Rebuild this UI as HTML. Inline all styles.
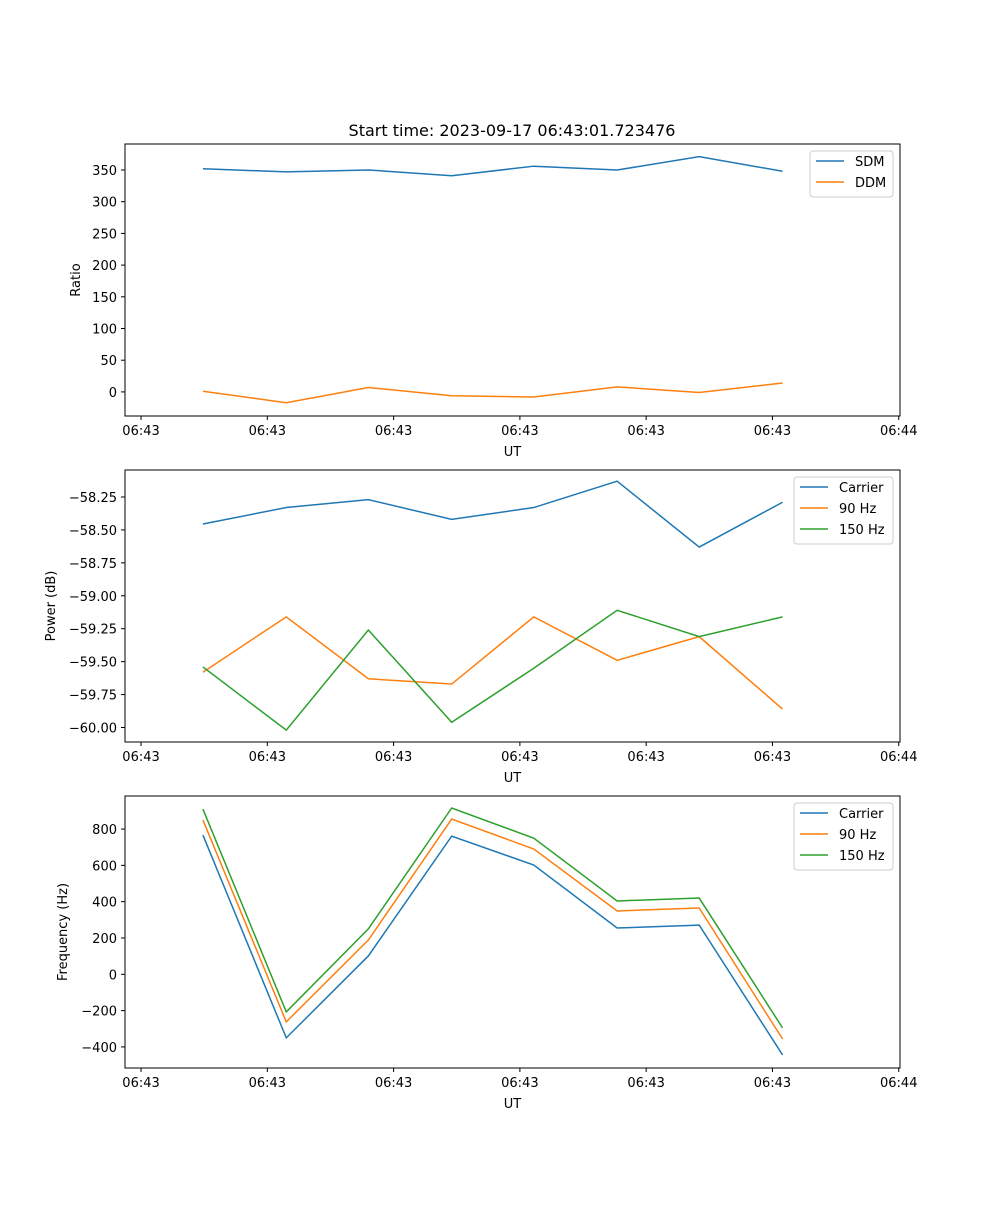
<!DOCTYPE html>
<html><head><meta charset="utf-8"><style>
body{margin:0;background:#fff;}
svg text{font-family:"DejaVu Sans","Liberation Sans",sans-serif;font-size:13px;fill:#000;}
</style></head><body>
<svg id="fig" width="1000" height="1200" xmlns="http://www.w3.org/2000/svg">
<rect width="1000" height="1200" fill="#fff"/>
<text x="512" y="136" text-anchor="middle" style="font-size:16px">Start time: 2023-09-17 06:43:01.723476</text>
</svg>
<script>
// seconds after 06:43:00
const times = [4.9, 11.5, 18.0, 24.6, 31.1, 37.7, 44.2, 50.8];
const xTicks = [0, 10, 20, 30, 40, 50, 60];
const xTickLabels = ["06:43","06:43","06:43","06:43","06:43","06:43","06:44"];

const sdm = [352, 347, 350, 341, 356, 350, 371, 348];
const ddm = [1, -17, 7, -6, -8, 8, -1, 14];
const ratioTicks = [0, 50, 100, 150, 200, 250, 300, 350];

const powerCarrier = [-58.455, -58.33, -58.27, -58.42, -58.33, -58.13, -58.63, -58.29];
const power90 = [-59.58, -59.16, -59.63, -59.67, -59.16, -59.49, -59.31, -59.86];
const power150 = [-59.54, -60.02, -59.26, -59.96, -59.55, -59.11, -59.31, -59.16];
const powerTicks = [-60.00, -59.75, -59.50, -59.25, -59.00, -58.75, -58.50, -58.25];
const powerTickLabels = ["\u221260.00","\u221259.75","\u221259.50","\u221259.25","\u221259.00","\u221258.75","\u221258.50","\u221258.25"];

const freqCarrier = [767, -350, 101, 761, 602, 255, 271, -444];
const freq90 = [850, -262, 189, 855, 690, 349, 365, -356];
const freq150 = [910, -207, 250, 916, 750, 404, 420, -295];
const freqTicks = [-400, -200, 0, 200, 400, 600, 800];

const NS = "http://www.w3.org/2000/svg";
const svg = document.getElementById('fig');
function mk(tag, attrs, parent){const e=document.createElementNS(NS,tag);for(const k in attrs)e.setAttribute(k,attrs[k]);(parent||svg).appendChild(e);return e;}
const L=125,R=900, XMIN=-1.27, XMAX=60.1;
const xs = t => L + (t-XMIN)/(XMAX-XMIN)*(R-L);

function panel(name, top, bot, ymin, ymax, yticks, ylabels, ytitle, series, legend){
  const g = mk('g',{});
  
  
  const ys = v => bot - (v-ymin)/(ymax-ymin)*(bot-top);
  series.forEach(s=>{
    const p = mk('polyline',{points:times.map((t,i)=>xs(t)+','+ys(s.vals[i])).join(' '),fill:'none',stroke:s.color,'stroke-width':1.5},g);
    
    
  });
  const fr = mk('rect',{x:L,y:top,width:R-L,height:bot-top,fill:'none',stroke:'#000','stroke-width':1},g);
  
  
  xTicks.forEach((t,i)=>{
    const x=xs(t);
    mk('line',{x1:x,x2:x,y1:bot,y2:bot+4,stroke:'#000'},g);
    const tx = mk('text',{x:x,y:bot+19,'text-anchor':'middle'},g);
    tx.textContent = xTickLabels[i];
    
    
  });
  const xt = mk('text',{x:(L+R)/2,y:bot+40,'text-anchor':'middle'},g);
  xt.textContent='UT';
  
  
  yticks.forEach((v,i)=>{
    const y=ys(v);
    mk('line',{x1:L-4,x2:L,y1:y,y2:y,stroke:'#000'},g);
    const tx = mk('text',{x:L-8,y:y+5,'text-anchor':'end'},g);
    tx.textContent = ylabels[i];
    
    
  });
  const yt = mk('text',{x:0,y:0,'text-anchor':'middle',transform:`translate(${legend.yx},${(top+bot)/2}) rotate(-90)`},g);
  yt.textContent=ytitle;
  
  
  const lg = mk('g',{},g);
  
  
  const lh = 4 + series.length*21;
  mk('rect',{x:legend.x,y:top+7,width:R-7-legend.x,height:lh,rx:3,fill:'#fff',stroke:'#ccc'},lg);
  series.forEach((s,i)=>{
    const y = top+17+i*21;
    mk('line',{x1:legend.x+6,x2:legend.x+34,y1:y,y2:y,stroke:s.color,'stroke-width':1.5},lg);
    const tx = mk('text',{x:legend.x+45,y:y+5},lg);
    tx.textContent=s.label;
    
    
  });
}
const C1='#1f77b4',C2='#ff7f0e',C3='#2ca02c';
panel('ratio-panel',144,416,-38,391,ratioTicks,ratioTicks.map(String),'Ratio',
  [{key:'sdm',label:'SDM',vals:sdm,color:C1},{key:'ddm',label:'DDM',vals:ddm,color:C2}],{x:810,yx:80});
panel('power-panel',470,742,-60.11,-58.045,powerTicks,powerTickLabels,'Power (dB)',
  [{key:'carrier',label:'Carrier',vals:powerCarrier,color:C1},{key:'90hz',label:'90 Hz',vals:power90,color:C2},{key:'150hz',label:'150 Hz',vals:power150,color:C3}],{x:794,yx:55});
panel('frequency-panel',796,1068,-516,982,freqTicks,freqTicks.map(v=>v<0?'\u2212'+(-v):String(v)),'Frequency (Hz)',
  [{key:'carrier',label:'Carrier',vals:freqCarrier,color:C1},{key:'90hz',label:'90 Hz',vals:freq90,color:C2},{key:'150hz',label:'150 Hz',vals:freq150,color:C3}],{x:794,yx:67});
</script>
</body></html>
